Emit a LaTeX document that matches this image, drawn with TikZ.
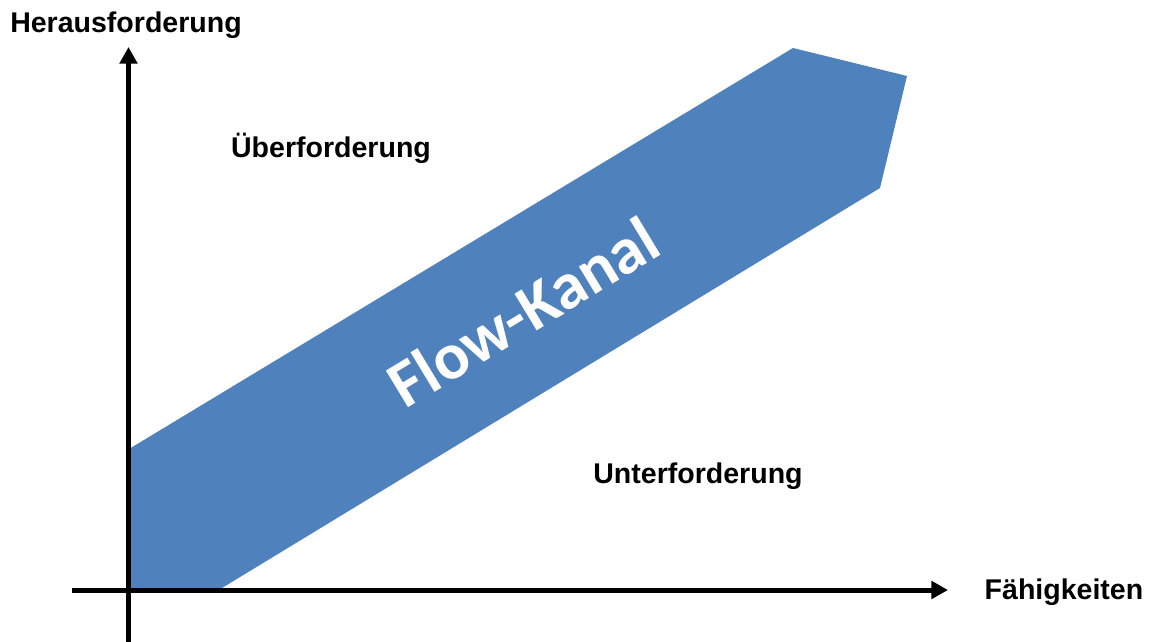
\documentclass[tikz,border=0pt]{standalone}
\usepackage{fontspec}
\setmainfont{Liberation Sans}
\newfontfamily\bandfont{Carlito}
\usetikzlibrary{arrows.meta}
\definecolor{flowblue}{HTML}{4F81BD}
\tikzset{
  axisline/.style={line width=3.75pt, -{Triangle[length=12.5pt,width=13pt]}},
  zonelabel/.style={font=\bfseries\fontsize{21.4}{25}\selectfont, inner sep=0pt},
}
\begin{document}
\begin{tikzpicture}[x=0.75pt,y=-0.75pt]
  \useasboundingbox (0,0) rectangle (1150,642);
  % flow channel band
  \fill[flowblue] (129,449) -- (793,48) -- (907,76) -- (880,188) -- (222,588) -- (129,588) -- cycle;
  \node[rotate=31.2, text=white, font=\bandfont\bfseries\fontsize{49.5}{55}\selectfont, inner sep=0pt] (band) at (523,312) {Flow-Kanal};
  % axes
  \coordinate (ytip) at (128.5,47);
  \coordinate (ybase) at (128.5,642);
  \coordinate (xtip) at (948,590);
  \coordinate (xbase) at (72,590);
  \draw[axisline] (ybase) -- (ytip);
  \draw[axisline] (xbase) -- (xtip);
  % labels
  \node[zonelabel] (ylab) at (126,25) {Herausforderung};
  \node[zonelabel] (xlab) at (1064,592) {Fähigkeiten};
  \node[zonelabel] (over) at (331,148) {Überforderung};
  \node[zonelabel] (under) at (698,476) {Unterforderung};
\end{tikzpicture}
\end{document}
